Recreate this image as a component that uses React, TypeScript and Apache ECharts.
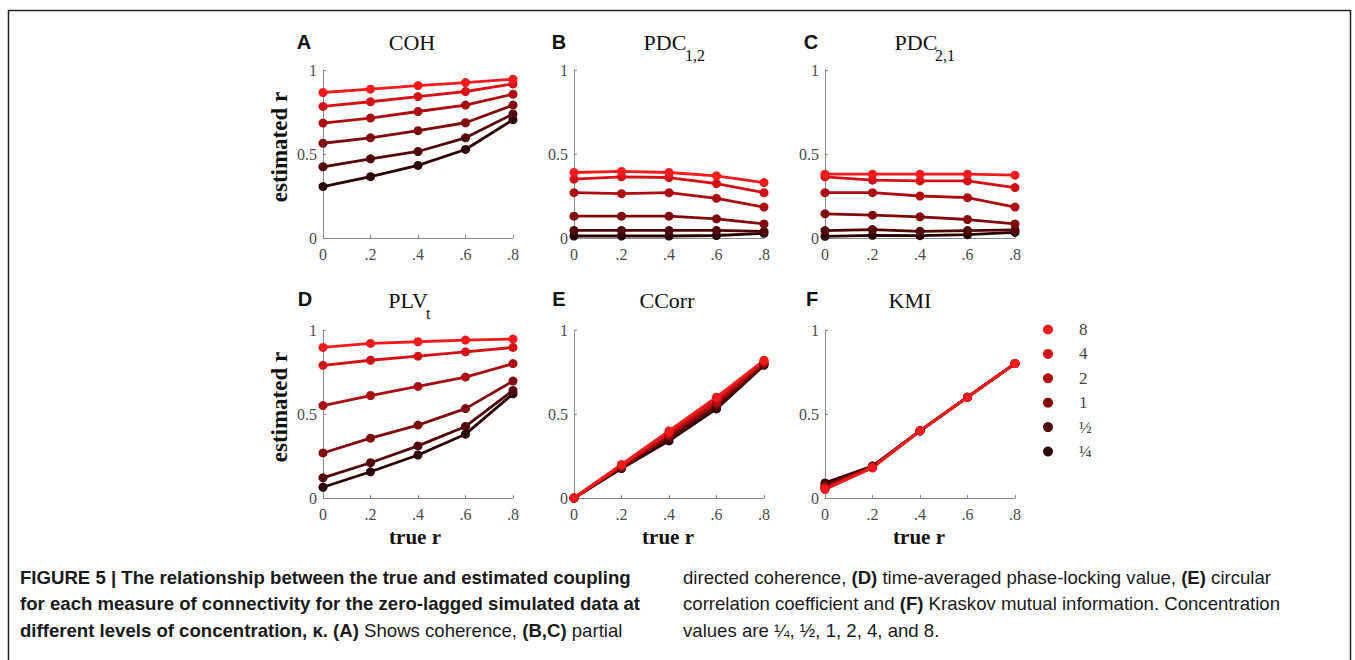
import React, { useEffect, useRef } from "react";
import * as echarts from "echarts";

const trueR = [0, 0.2, 0.4, 0.6, 0.8];
const kappaLabels = ["8", "4", "2", "1", "½", "¼"];
const kappaColors = ["#f21a1a", "#d41216", "#ad0d10", "#800a0c", "#520607", "#2a0203"];

// rows ordered by kappa: 8, 4, 2, 1, 1/2, 1/4
const coh = [
  [0.866, 0.886, 0.907, 0.925, 0.945],
  [0.783, 0.811, 0.842, 0.872, 0.917],
  [0.684, 0.714, 0.753, 0.791, 0.856],
  [0.564, 0.596, 0.639, 0.686, 0.791],
  [0.424, 0.471, 0.515, 0.596, 0.738],
  [0.306, 0.365, 0.432, 0.527, 0.704],
];
const pdc12 = [
  [0.39, 0.396, 0.39, 0.37, 0.33],
  [0.35, 0.364, 0.36, 0.324, 0.27],
  [0.27, 0.264, 0.27, 0.236, 0.184],
  [0.13, 0.13, 0.13, 0.114, 0.084],
  [0.045, 0.045, 0.045, 0.045, 0.04],
  [0.012, 0.012, 0.012, 0.015, 0.028],
];
const pdc21 = [
  [0.38, 0.38, 0.38, 0.38, 0.374],
  [0.364, 0.344, 0.34, 0.34, 0.3],
  [0.27, 0.27, 0.25, 0.24, 0.184],
  [0.144, 0.136, 0.126, 0.11, 0.084],
  [0.044, 0.05, 0.04, 0.044, 0.048],
  [0.01, 0.016, 0.014, 0.02, 0.034],
];
const plv = [
  [0.896, 0.92, 0.93, 0.94, 0.946],
  [0.79, 0.82, 0.844, 0.87, 0.896],
  [0.55, 0.61, 0.664, 0.72, 0.8],
  [0.268, 0.356, 0.434, 0.532, 0.696],
  [0.12, 0.21, 0.31, 0.426, 0.64],
  [0.064, 0.156, 0.256, 0.38, 0.62],
];
const ccorr = [
  [0, 0.2, 0.4, 0.6, 0.82],
  [0, 0.195, 0.39, 0.59, 0.815],
  [0, 0.19, 0.38, 0.57, 0.81],
  [0, 0.185, 0.37, 0.56, 0.8],
  [0, 0.18, 0.355, 0.545, 0.795],
  [0, 0.175, 0.34, 0.53, 0.79],
];
const kmi = [
  [0.05, 0.18, 0.4, 0.6, 0.8],
  [0.055, 0.18, 0.4, 0.6, 0.8],
  [0.06, 0.185, 0.4, 0.6, 0.8],
  [0.07, 0.185, 0.4, 0.6, 0.8],
  [0.08, 0.19, 0.4, 0.6, 0.8],
  [0.09, 0.19, 0.4, 0.6, 0.8],
];

const panelData = [coh, pdc12, pdc21, plv, ccorr, kmi];
const panelLetters = ["A", "B", "C", "D", "E", "F"];
const xTickLabels = ["0", ".2", ".4", ".6", ".8"];
const yTickLabels = ["0", "0.5", "1"];

const SERIF = "'Liberation Serif', 'DejaVu Serif', serif";
const SANS = "'Liberation Sans', Arial, sans-serif";

export default function App() {
  const ref = useRef<HTMLDivElement>(null);
  useEffect(() => {
    if (!ref.current) return;
    const chart = echarts.init(ref.current, undefined, { renderer: "svg" });

    const gridLefts = [323, 574, 825];
    const gridTops = [70, 330];
    const grids: any[] = [];
    const xAxes: any[] = [];
    const yAxes: any[] = [];
    const series: any[] = [];

    panelData.forEach((panel, p) => {
      const col = p % 3;
      const row = Math.floor(p / 3);
      grids.push({ left: gridLefts[col], top: gridTops[row], width: 190, height: 168 });
      const axisLine = { show: true, lineStyle: { color: "#8a8a8a", width: 1 } };
      const axisLabelStyle = { fontFamily: SERIF, fontSize: 16, color: "#4a4a4a" };
      xAxes.push({
        type: "value",
        gridIndex: p,
        min: 0,
        max: 0.8,
        interval: 0.2,
        axisLine,
        axisTick: { show: true, inside: true, length: 3, lineStyle: { color: "#8a8a8a" } },
        splitLine: { show: false },
        axisLabel: {
          ...axisLabelStyle,
          margin: 8,
          formatter: (v: number) => xTickLabels[Math.round(v / 0.2)],
        },
      });
      yAxes.push({
        type: "value",
        gridIndex: p,
        min: 0,
        max: 1,
        interval: 0.5,
        axisLine,
        axisTick: { show: true, inside: true, length: 3, lineStyle: { color: "#8a8a8a" } },
        splitLine: { show: false },
        axisLabel: {
          ...axisLabelStyle,
          margin: 6,
          formatter: (v: number) => yTickLabels[Math.round(v / 0.5)],
        },
      });
      for (let k = kappaLabels.length - 1; k >= 0; k--) {
        series.push({
          type: "line",
          name: kappaLabels[k],
          xAxisIndex: p,
          yAxisIndex: p,
          data: trueR.map((x, i) => [x, panel[k][i]]),
          symbol: "circle",
          symbolSize: 9,
          showSymbol: true,
          clip: false,
          lineStyle: { width: 2.8, color: kappaColors[k] },
          itemStyle: { color: kappaColors[k] },
          z: 2,
        });
      }
    });

    const letterPos = [
      [304, 42], [559, 42], [811, 42],
      [305, 299], [559, 299], [812, 299],
    ];
    const graphics: any[] = [
      {
        type: "rect",
        shape: { x: 8.5, y: 10.5, width: 1342, height: 720 },
        style: { fill: "none", stroke: "#222", lineWidth: 1.5 },
        silent: true,
      },
    ];
    panelLetters.forEach((l, i) => {
      graphics.push({
        type: "text",
        x: letterPos[i][0],
        y: letterPos[i][1],
        style: { text: l, font: `bold 20px ${SANS}`, fill: "#111", align: "center", verticalAlign: "middle" },
      });
    });
    const titleFont = `22px ${SERIF}`;
    const subFont = `16px ${SERIF}`;
    const titles = [
      { main: "COH", x: 412, y: 42, sub: "", sx: 0 },
      { main: "PDC", x: 665, y: 42, sub: "1,2", sx: 685 },
      { main: "PDC", x: 916, y: 42, sub: "2,1", sx: 935 },
      { main: "PLV", x: 408, y: 300, sub: "t", sx: 426 },
      { main: "CCorr", x: 667, y: 300, sub: "", sx: 0 },
      { main: "KMI", x: 910, y: 300, sub: "", sx: 0 },
    ];
    titles.forEach((t) => {
      graphics.push({
        type: "text",
        x: t.x,
        y: t.y,
        style: { text: t.main, font: titleFont, fill: "#111", align: "center", verticalAlign: "middle" },
      });
      if (t.sub) {
        graphics.push({
          type: "text",
          x: t.sx,
          y: t.y + 13,
          style: { text: t.sub, font: subFont, fill: "#111", align: "left", verticalAlign: "middle" },
        });
      }
    });
    [147, 407].forEach((cy) => {
      graphics.push({
        type: "text",
        x: 279,
        y: cy,
        rotation: Math.PI / 2,
        style: { text: "estimated r", font: `bold 23px ${SERIF}`, fill: "#111", align: "center", verticalAlign: "middle" },
      });
    });
    [415, 668, 919].forEach((cx) => {
      graphics.push({
        type: "text",
        x: cx,
        y: 537,
        style: { text: "true r", font: `bold 21px ${SERIF}`, fill: "#111", align: "center", verticalAlign: "middle" },
      });
    });

    const capRich = {
      b: { fontFamily: SANS, fontWeight: "bold", fontSize: 18.6, fill: "#1a1a1a", lineHeight: 26.5 },
      n: { fontFamily: SANS, fontWeight: "normal", fontSize: 18.6, fill: "#1a1a1a", lineHeight: 26.5 },
    } as any;
    const leftLines = [
      "{b|FIGURE 5 | The relationship between the true and estimated coupling}",
      "{b|for each measure of connectivity for the zero-lagged simulated data at}",
      "{b|different levels of concentration, κ. (A)}{n| Shows coherence, }{b|(B,C)}{n| partial}",
    ];
    const rightLines = [
      "{n|directed coherence, }{b|(D)}{n| time-averaged phase-locking value, }{b|(E)}{n| circular}",
      "{n|correlation coefficient and }{b|(F)}{n| Kraskov mutual information. Concentration}",
      "{n|values are ¼, ½, 1, 2, 4, and 8.}",
    ];
    const lineYs = [577, 603.5, 630];
    leftLines.forEach((s, i) => {
      graphics.push({
        type: "text",
        x: 20,
        y: lineYs[i],
        style: { text: s, rich: capRich, align: "left", verticalAlign: "middle" },
      });
    });
    rightLines.forEach((s, i) => {
      graphics.push({
        type: "text",
        x: 683,
        y: lineYs[i],
        style: { text: s, rich: capRich, align: "left", verticalAlign: "middle" },
      });
    });

    chart.setOption({
      animation: false,
      backgroundColor: "#ffffff",
      grid: grids,
      xAxis: xAxes,
      yAxis: yAxes,
      series,
      legend: {
        data: kappaLabels,
        orient: "vertical",
        left: 1038,
        top: 316,
        icon: "circle",
        itemWidth: 10,
        itemHeight: 10,
        itemGap: 7.4,
        selectedMode: false,
        textStyle: { fontFamily: SERIF, fontSize: 17, color: "#444", lineHeight: 14, padding: [0, 0, 0, 21] },
      },
      graphic: graphics,
    });
    return () => chart.dispose();
  }, []);
  return (
    <div
      ref={ref}
      style={{ position: "absolute", left: 0, top: 0, width: 1355, height: 660 }}
    />
  );
}
